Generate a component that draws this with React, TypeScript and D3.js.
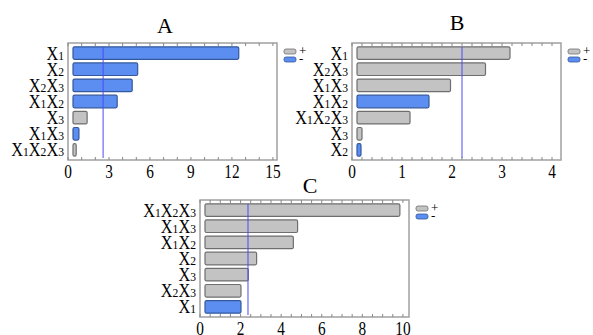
import React, { useRef, useEffect } from "react";
import * as d3 from "d3";

// standardized Pareto charts, three responses
const termsA = ["X1", "X2", "X2X3", "X1X2", "X3", "X1X3", "X1X2X3"];
const effectsA = [12.5, 5.1, 4.7, 3.6, 1.4, 0.8, 0.6];
const signsA = ["-", "-", "-", "-", "+", "-", "+"];
const ticksA = [0, 3, 6, 9, 12, 15];
const critA = 2.57;

const termsB = ["X1", "X2X3", "X1X3", "X1X2", "X1X2X3", "X3", "X2"];
const effectsB = [3.16, 2.67, 1.97, 1.54, 1.16, 0.2, 0.18];
const signsB = ["+", "+", "+", "-", "+", "+", "-"];
const ticksB = [0, 1, 2, 3, 4];
const critB = 2.2;

const termsC = ["X1X2X3", "X1X3", "X1X2", "X2", "X3", "X2X3", "X1"];
const effectsC = [9.85, 4.81, 4.6, 2.79, 2.38, 2.02, 2.02];
const signsC = ["+", "+", "+", "+", "+", "+", "-"];
const ticksC = [0, 2, 4, 6, 8, 10];
const critC = 2.365;

const GRAY = "#c3c3c3";
const GRAY_EDGE = "#6e6e6e";
const BLUE = "#5b8ef0";
const BLUE_EDGE = "#34589c";
const FONT = "'Liberation Serif', 'Times New Roman', serif";

type Panel = {
  title: string;
  terms: string[];
  effects: number[];
  signs: string[];
  ticks: number[];
  minor: number;
  crit: number;
  max: number;
  left: number;
  top: number;
  titleX: number;
  titleY: number;
};

const panels: Panel[] = [
  { title: "A", terms: termsA, effects: effectsA, signs: signsA, ticks: ticksA, minor: 1, crit: critA, max: 15.3, left: 68, top: 43, titleX: 165, titleY: 33 },
  { title: "B", terms: termsB, effects: effectsB, signs: signsB, ticks: ticksB, minor: 0.2, crit: critB, max: 4.18, left: 352, top: 43, titleX: 457, titleY: 30 },
  { title: "C", terms: termsC, effects: effectsC, signs: signsC, ticks: ticksC, minor: 0.5, crit: critC, max: 10.3, left: 200, top: 200, titleX: 310, titleY: 193 },
];

const W = 209;
const H = 117;

export default function App() {
  const ref = useRef<SVGSVGElement>(null);

  useEffect(() => {
    const svg = d3.select(ref.current);
    svg.selectAll("*").remove();

    panels.forEach((p) => {
      const g = svg.append("g").attr("transform", `translate(${p.left},${p.top})`);
      const x = d3.scaleLinear().domain([0, p.max]).range([0, W]);
      const y = d3.scaleBand().domain(p.terms).range([2, H - 2]).paddingInner(0.22).paddingOuter(0.11);

      // title
      svg
        .append("text")
        .attr("x", p.titleX)
        .attr("y", p.titleY)
        .attr("text-anchor", "middle")
        .attr("font-family", FONT)
        .attr("font-size", 22)
        .text(p.title);

      // frame
      g.append("rect")
        .attr("width", W)
        .attr("height", H)
        .attr("fill", "#fff")
        .attr("stroke", "#a0a0a0")
        .attr("stroke-width", 1.5);

      // minor ticks top & bottom
      const minorTicks = d3.range(0, p.max + 1e-9, p.minor);
      g.selectAll("line.tb")
        .data(minorTicks)
        .join("line")
        .attr("x1", (d) => x(d))
        .attr("x2", (d) => x(d))
        .attr("y1", H)
        .attr("y2", H - 3)
        .attr("stroke", "#888");
      g.selectAll("line.tt")
        .data(minorTicks)
        .join("line")
        .attr("x1", (d) => x(d))
        .attr("x2", (d) => x(d))
        .attr("y1", 0)
        .attr("y2", 3)
        .attr("stroke", "#888");

      // bars
      g.selectAll("rect.bar")
        .data(p.terms)
        .join("rect")
        .attr("x", 5)
        .attr("y", (d) => y(d)!)
        .attr("width", (d, i) => Math.max(1.5, x(p.effects[i]) - 5))
        .attr("height", y.bandwidth())
        .attr("rx", 1.5)
        .attr("fill", (d, i) => (p.signs[i] === "+" ? GRAY : BLUE))
        .attr("stroke", (d, i) => (p.signs[i] === "+" ? GRAY_EDGE : BLUE_EDGE))
        .attr("stroke-width", 1.2);

      // critical line
      g.append("line")
        .attr("x1", x(p.crit))
        .attr("x2", x(p.crit))
        .attr("y1", 4)
        .attr("y2", H - 2)
        .attr("stroke", "#4a4af5")
        .attr("stroke-width", 1);

      // term labels with small digits, slightly condensed
      const labels = g
        .selectAll("text.term")
        .data(p.terms)
        .join("text")
        .attr("transform", (d) => `translate(-4,${y(d)! + y.bandwidth() / 2 + 6.5}) scale(0.86,1)`)
        .attr("text-anchor", "end")
        .attr("font-family", FONT)
        .attr("font-size", 19);
      labels.each(function (d) {
        const t = d3.select(this);
        (d.match(/X|\d/g) || []).forEach((ch) => {
          t.append("tspan")
            .attr("font-size", ch === "X" ? 19 : 13.5)
            .text(ch);
        });
      });

      // axis tick labels
      g.selectAll("text.tick")
        .data(p.ticks)
        .join("text")
        .attr("transform", (d) => `translate(${x(d)},${H + 18}) scale(0.85,1)`)
        .attr("text-anchor", "middle")
        .attr("font-family", FONT)
        .attr("font-size", 18)
        .text((d) => d);

      // legend
      const lg = g.append("g").attr("transform", `translate(${W + 7},6)`);
      ["+", "-"].forEach((s, i) => {
        lg.append("rect")
          .attr("x", 0)
          .attr("y", i * 8)
          .attr("width", 12)
          .attr("height", 5)
          .attr("rx", 2)
          .attr("fill", s === "+" ? GRAY : BLUE)
          .attr("stroke", s === "+" ? GRAY_EDGE : BLUE_EDGE)
          .attr("stroke-width", 0.8);
        lg.append("text")
          .attr("x", 15)
          .attr("y", i * 8 + 6)
          .attr("font-family", FONT)
          .attr("font-size", 13)
          .text(s);
      });
    });
  }, []);

  return (
    <div style={{ position: "absolute", left: 0, top: 0 }}>
      <svg ref={ref} width={593} height={335} style={{ display: "block", background: "#fff" }} />
    </div>
  );
}
